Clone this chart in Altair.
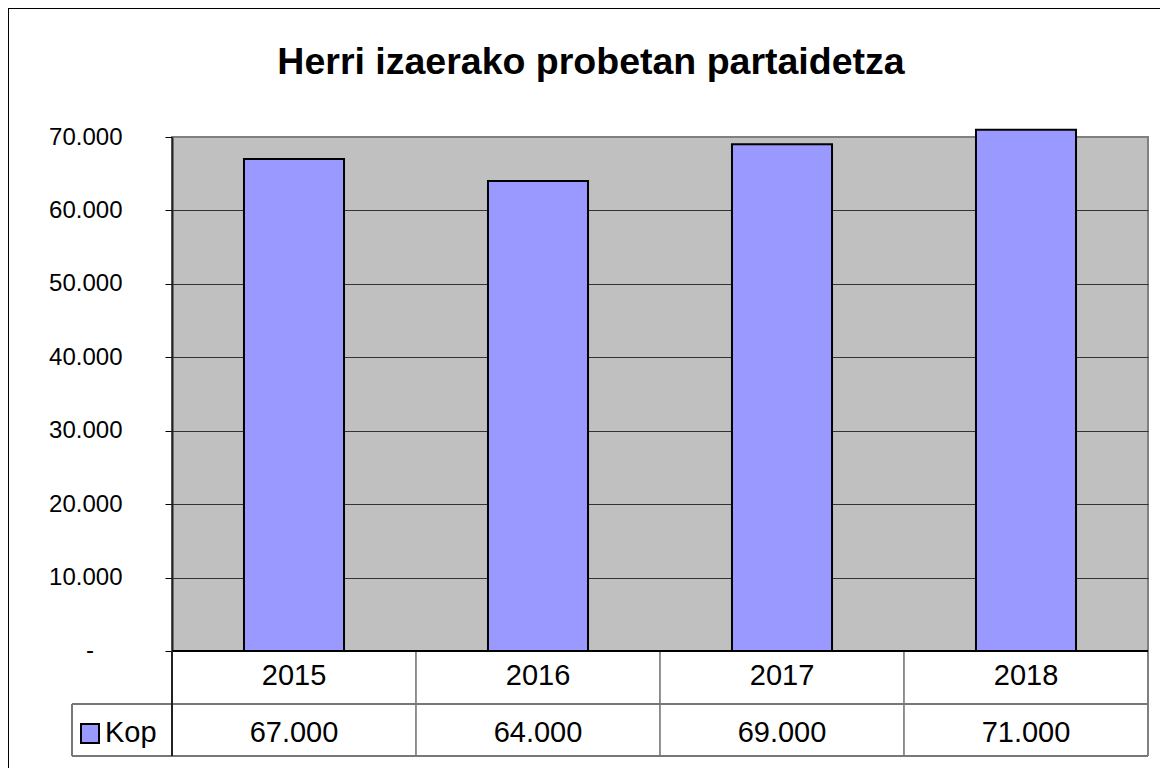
import altair as alt
import pandas as pd

years = ["2015", "2016", "2017", "2018"]
kop = [67000, 64000, 69000, 71000]
series_name = "Kop"
title_text = "Herri izaerako probetan partaidetza"
y_ticks = [0, 10000, 20000, 30000, 40000, 50000, 60000, 70000]
zero_label = "-"

df = pd.DataFrame({"year": years, "kop": kop})
df["label"] = [f"{v:,}".replace(",", ".") for v in kop]

W, H = 976, 514
FONT = "Liberation Sans"

xscale = alt.Scale(domain=years, paddingInner=0.59, paddingOuter=0.295)
yscale = alt.Scale(domain=[0, 70000], nice=False)

label_expr = "datum.value == 0 ? '' : replace(format(datum.value, ',.0f'), ',', '.')"

base = alt.Chart(df)

bars = base.mark_bar(color="#9999FF", stroke="black", strokeWidth=2, clip=False).encode(
    x=alt.X("year:N", scale=xscale, axis=None),
    y=alt.Y("kop:Q", scale=yscale, title=None,
            axis=alt.Axis(values=y_ticks, labelExpr=label_expr,
                          labelFont=FONT, labelFontSize=24, labelColor="black",
                          tickSize=7, tickColor="black", labelPadding=43,
                          domainColor="#222222", domainWidth=2,
                          grid=True,
                          gridColor=alt.condition("datum.value == 70000", alt.value("#808080"), alt.value("#333333")),
                          gridWidth=1)),
)

zero_df = pd.DataFrame({"z": [zero_label], "v": [0]})
zero_txt = alt.Chart(zero_df).mark_text(font=FONT, fontSize=24, color="black", align="center", baseline="middle").encode(
    x=alt.value(-82), y=alt.Y("v:Q", scale=yscale), text="z:N")

# table: year row and value row
year_text = base.mark_text(font=FONT, fontSize=29, color="black", baseline="middle", align="center").encode(
    x=alt.X("year:N", scale=xscale), y=alt.value(539), text="year:N")
val_text = base.mark_text(font=FONT, fontSize=29, color="black", baseline="middle", align="center").encode(
    x=alt.X("year:N", scale=xscale), y=alt.value(595.5), text="label:N")

vlines = base.mark_rule(color="#222222", strokeWidth=1).encode(
    x=alt.X("year:N", scale=xscale, bandPosition=0), xOffset=alt.value(-72),
    y=alt.value(514), y2=alt.value(619))
vline_last = base.mark_rule(color="#808080", strokeWidth=2).encode(
    x=alt.value(W), y=alt.value(514), y2=alt.value(619))

h_bottom_axis = base.mark_rule(color="black", strokeWidth=1.5).encode(
    x=alt.value(0), x2=alt.value(W), y=alt.value(514))
h_mid = base.mark_rule(color="#777777", strokeWidth=1.5).encode(
    x=alt.value(-100), x2=alt.value(W), y=alt.value(567))
h_bot = base.mark_rule(color="#777777", strokeWidth=1.5).encode(
    x=alt.value(-100), x2=alt.value(W), y=alt.value(619))
v_leg = base.mark_rule(color="#777777", strokeWidth=1.5).encode(
    x=alt.value(-100), y=alt.value(567), y2=alt.value(619))
v_axis_ext = base.mark_rule(color="#222222", strokeWidth=1.5).encode(
    x=alt.value(0), y=alt.value(514), y2=alt.value(619))

legend_df = pd.DataFrame({"name": [series_name]})
leg_sym = alt.Chart(legend_df).mark_rect(color="#9999FF", stroke="black", strokeWidth=2).encode(
    x=alt.value(-91), x2=alt.value(-73), y=alt.value(587), y2=alt.value(606))
leg_txt = alt.Chart(legend_df).mark_text(font=FONT, fontSize=29, color="black", align="left", baseline="middle").encode(
    x=alt.value(-67), y=alt.value(595.5), text="name:N")

title_df = pd.DataFrame({"t": [title_text]})
title = alt.Chart(title_df).mark_text(font=FONT, fontSize=37.5, fontWeight="bold", color="black",
                                      align="center", baseline="middle").encode(
    x=alt.value(419), y=alt.value(-74), text="t:N")

border_top = base.mark_rule(color="black", strokeWidth=1).encode(
    x=alt.value(-164), x2=alt.value(988), y=alt.value(-128.5))
border_left = base.mark_rule(color="black", strokeWidth=1).encode(
    x=alt.value(-163.5), y=alt.value(-129), y2=alt.value(631))

chart = alt.layer(
    bars, zero_txt, year_text, val_text, vlines, vline_last, h_bottom_axis, h_mid, h_bot, v_leg, v_axis_ext,
    leg_sym, leg_txt, title, border_top, border_left
).properties(
    width=W, height=H,
    padding={"left": 164, "top": 129, "right": 12, "bottom": 117},
    autosize="none",
    background="white",
).configure_view(fill="#C0C0C0", stroke="#808080", strokeWidth=2)

chart.save("out.html", embed_options={"renderer": "svg", "actions": False})
